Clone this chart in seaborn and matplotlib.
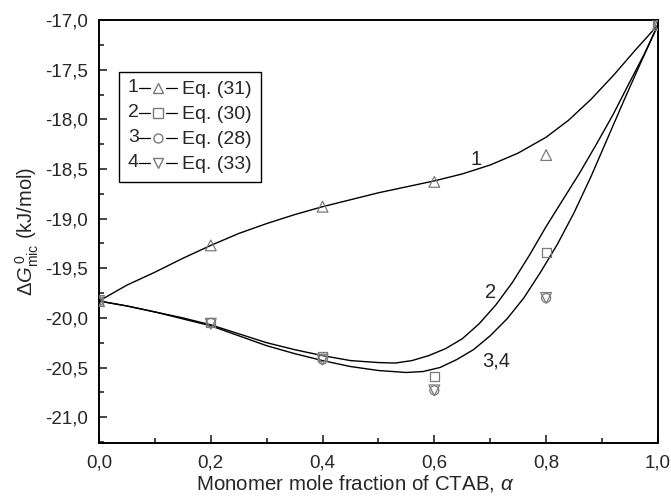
import matplotlib
matplotlib.use("Agg")
import matplotlib.pyplot as plt
import seaborn as sns
from matplotlib.ticker import MultipleLocator, FuncFormatter
from matplotlib.legend_handler import HandlerBase
from matplotlib.lines import Line2D
from matplotlib.text import Text

# === Experimental points ===
alpha = [0.0, 0.2, 0.4, 0.6, 0.8, 1.0]
eq31 = [-19.83, -19.27, -18.88, -18.63, -18.36, -17.05]
eq30 = [-19.83, -20.05, -20.39, -20.59, -19.34, -17.05]
eq28 = [-19.83, -20.05, -20.42, -20.73, -19.80, -17.05]
eq33 = [-19.83, -20.06, -20.42, -20.73, -19.80, -17.05]

# === Fitted curves ===
c1_x = [0.0, 0.025, 0.05, 0.1, 0.15, 0.2, 0.25, 0.3, 0.35, 0.4, 0.45, 0.5, 0.55, 0.6,
        0.65, 0.7, 0.75, 0.8, 0.84, 0.88, 0.92, 0.96, 1.0]
c1_y = [-19.83, -19.75, -19.67, -19.54, -19.40, -19.27, -19.15, -19.05, -18.96, -18.88,
        -18.81, -18.74, -18.68, -18.62, -18.55, -18.46, -18.34, -18.18, -18.01, -17.80,
        -17.56, -17.30, -17.05]
c2_x = [0.0, 0.05, 0.1, 0.15, 0.2, 0.25, 0.3, 0.35, 0.4, 0.45, 0.5, 0.53, 0.56, 0.59,
        0.62, 0.65, 0.68, 0.71, 0.74, 0.77, 0.8, 0.83, 0.86, 0.89, 0.92, 0.95, 0.975, 1.0]
c2_y = [-19.83, -19.88, -19.94, -20.00, -20.07, -20.16, -20.25, -20.32, -20.38, -20.43,
        -20.45, -20.455, -20.43, -20.38, -20.31, -20.21, -20.06, -19.87, -19.64, -19.37,
        -19.08, -18.81, -18.54, -18.25, -17.95, -17.62, -17.35, -17.05]
c34_x = [0.0, 0.05, 0.1, 0.15, 0.2, 0.25, 0.3, 0.35, 0.4, 0.45, 0.5, 0.55, 0.58, 0.61,
         0.64, 0.67, 0.7, 0.73, 0.76, 0.79, 0.82, 0.85, 0.88, 0.91, 0.94, 0.97, 1.0]
c34_y = [-19.83, -19.88, -19.94, -20.01, -20.08, -20.18, -20.28, -20.36, -20.43, -20.49,
         -20.53, -20.55, -20.54, -20.50, -20.42, -20.32, -20.18, -20.01, -19.80, -19.54,
         -19.26, -18.94, -18.58, -18.19, -17.80, -17.42, -17.05]

curve_labels = ["1", "2", "3,4"]
curve_label_pos = [(0.675, -18.40), (0.70, -19.74), (0.71, -20.43)]

legend_nums = ["1", "2", "3", "4"]
legend_texts = ["Eq. (31)", "Eq. (30)", "Eq. (28)", "Eq. (33)"]

sns.set_theme(style="ticks")
plt.rcParams['font.family'] = ['Liberation Sans', 'DejaVu Sans']
plt.rcParams['mathtext.fontset'] = 'custom'
plt.rcParams['mathtext.rm'] = 'Liberation Sans'
plt.rcParams['mathtext.it'] = 'Liberation Sans:italic'
plt.rcParams['mathtext.bf'] = 'Liberation Sans:bold'

fig = plt.figure(figsize=(6.71, 5.01), dpi=100)
ax = fig.add_axes([0.1475, 0.1158, 0.833, 0.8442])

# curves
for cx, cy in [(c1_x, c1_y), (c2_x, c2_y), (c34_x, c34_y)]:
    sns.lineplot(x=cx, y=cy, ax=ax, color='black', linewidth=1.0, sort=False, estimator=None)

# points
grey = '#7a7a7a'
series = [(eq31, '^', 60), (eq30, 's', 42), (eq28, 'o', 42), (eq33, 'v', 60)]
handles = []
for vals, mk, s in series:
    sns.scatterplot(x=alpha, y=vals, ax=ax, marker=mk, s=s, facecolors='none',
                    edgecolor=grey, linewidth=0.9, zorder=3)
    handles.append(Line2D([], [], marker=mk, markersize=s ** 0.5, markerfacecolor='none',
                          markeredgecolor=grey, linestyle='none'))

for lab, (lx, ly) in zip(curve_labels, curve_label_pos):
    ax.text(lx, ly, lab, fontsize=14.5, ha='center', va='center')


class NumHandler(HandlerBase):
    def __init__(self, num):
        super().__init__()
        self.num = num

    def create_artists(self, legend, orig, xd, yd, width, height, fontsize, trans):
        y = height / 2 - yd
        x0 = -xd
        tw = 0.58 * fontsize
        t = Text(x0, y, self.num, fontsize=fontsize, va='center', ha='left',
                 family=['Liberation Sans'], transform=trans)
        mid = x0 + tw + (width - tw) / 2
        gap = 0.42 * fontsize
        l1 = Line2D([x0 + tw, mid - gap], [y, y], color='black', lw=0.9, transform=trans)
        l2 = Line2D([mid + gap, x0 + width], [y, y], color='black', lw=0.9, transform=trans)
        m = Line2D([mid], [y], marker=orig.get_marker(), markersize=orig.get_markersize(),
                   markerfacecolor='none', markeredgecolor=grey, linestyle='none',
                   transform=trans)
        return [t, l1, l2, m]


leg = ax.legend(handles, legend_texts, loc='upper left', bbox_to_anchor=(0.036, 0.877),
                handler_map={h: NumHandler(n) for h, n in zip(handles, legend_nums)},
                fontsize=14, handlelength=2.55, handletextpad=0.25, labelspacing=0.38,
                borderpad=0.45, borderaxespad=0, fancybox=False, framealpha=1,
                edgecolor='black')
leg.get_frame().set_linewidth(1.0)

# axes formatting
ax.set_xlim(0, 1.0)
ax.set_ylim(-21.26, -17.0)
ax.xaxis.set_major_locator(MultipleLocator(0.2))
ax.xaxis.set_minor_locator(MultipleLocator(0.1))
ax.yaxis.set_major_locator(MultipleLocator(0.5))
ax.yaxis.set_minor_locator(MultipleLocator(0.25))
comma = FuncFormatter(lambda v, p: f"{v:.1f}".replace('.', ',').replace('-0,0', '0,0'))
ax.xaxis.set_major_formatter(comma)
ax.yaxis.set_major_formatter(comma)
ax.tick_params(which='major', direction='in', length=6, width=1.2, labelsize=13.5, pad=8)
ax.tick_params(which='minor', direction='in', length=3.5, width=1.2)
for sp in ax.spines.values():
    sp.set_linewidth(1.4)
    sp.set_color('black')

ax.set_xlabel(r"Monomer mole fraction of CTAB, $\alpha$", fontsize=14.8)
ax.xaxis.set_label_coords(0.458, -0.07)
ax.set_ylabel(r"$\mathit{\Delta G}^{\,0}_{\rm mic}$ (kJ/mol)", fontsize=14.5, labelpad=3)

fig.savefig("out.png", dpi=100)
